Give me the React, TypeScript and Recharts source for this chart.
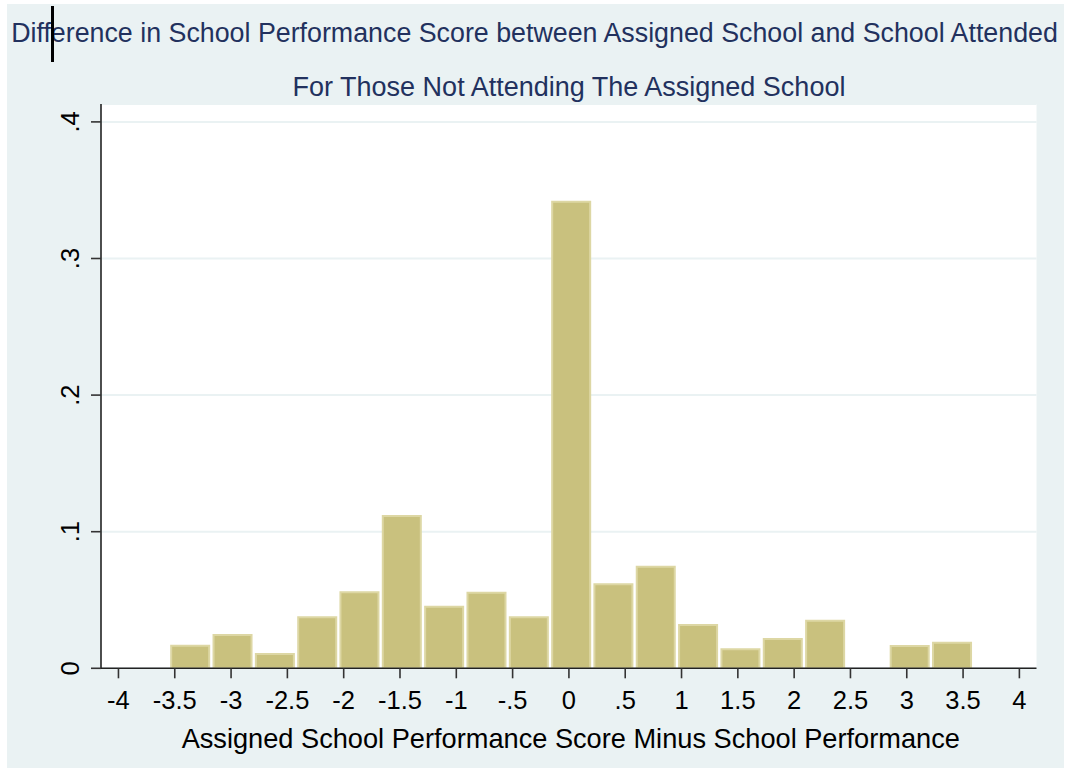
import { BarChart, Bar, XAxis, YAxis, CartesianGrid, Label } from 'recharts'

// histogram bins (centre of each bin) and bar heights (density)
const binCenters = [
  -3.362, -2.986, -2.610, -2.234, -1.859, -1.483, -1.107, -0.731, -0.355, 0.021,
  0.396, 0.772, 1.148, 1.524, 1.900, 2.276, 2.651, 3.027, 3.403,
]
const densities = [
  0.0165, 0.0244, 0.0105, 0.0373, 0.0556, 0.1115, 0.0451, 0.0553, 0.0373, 0.3416,
  0.0615, 0.0744, 0.0317, 0.0139, 0.0214, 0.0348, 0, 0.0163, 0.0187,
]

const xTicks = [-4, -3.5, -3, -2.5, -2, -1.5, -1, -0.5, 0, 0.5, 1, 1.5, 2, 2.5, 3, 3.5, 4]
const xTickLabels = ['-4', '-3.5', '-3', '-2.5', '-2', '-1.5', '-1', '-.5', '0', '.5', '1', '1.5', '2', '2.5', '3', '3.5', '4']
const yTicks = [0, 0.1, 0.2, 0.3, 0.4]
const yTickLabels = ['0', '.1', '.2', '.3', '.4']

const titleLines = [
  'Difference in School Performance Score between Assigned School and School Attended',
  'For Those Not Attending The Assigned School',
]
const xTitle = 'Assigned School Performance Score Minus School Performance'

const FONT = '"Liberation Sans", Arial, Helvetica, sans-serif'
const NAVY = '#22315e'
const BG = '#eaf2f3'

const W = 1072
const H = 770
const X_DOMAIN: [number, number] = [-4.155, 4.152]
const PLOT_LEFT = 101
const PLOT_RIGHT = 1036.5

const data = binCenters.map((x, i) => ({ x, density: densities[i] }))

// bar width = one bin, converted to pixels with the same mapping as the x axis
const pxPerUnit = (PLOT_RIGHT - PLOT_LEFT) / (X_DOMAIN[1] - X_DOMAIN[0])
const barPx = (binCenters[1] - binCenters[0]) * pxPerUnit

function XTick({ x, y, payload }: any) {
  const i = xTicks.indexOf(payload.value)
  return (
    <text x={x} y={y} dy={29} textAnchor="middle" fontSize={25.5} fill="#000" fontFamily={FONT}>
      {xTickLabels[i]}
    </text>
  )
}

function YTick({ x, y, payload }: any) {
  const i = yTicks.indexOf(payload.value)
  const tx = x - 10
  return (
    <text
      x={tx}
      y={y}
      transform={`rotate(-90, ${tx}, ${y})`}
      textAnchor="middle"
      fontSize={25.5}
      fill="#000"
      fontFamily={FONT}
    >
      {yTickLabels[i]}
    </text>
  )
}

export default function App() {
  return (
    <div style={{ position: 'absolute', left: 0, top: 0, width: W, height: H, background: '#fff' }}>
      <div style={{ position: 'absolute', left: 7, top: 4, width: 1057, height: 764, background: BG }} />
      <div style={{ position: 'absolute', left: 0, top: 0 }}>
        <BarChart
          width={W}
          height={H}
          data={data}
          margin={{ top: 104, right: W - PLOT_RIGHT, left: 71, bottom: 71.7 }}
          barCategoryGap={0}
        >
          <CartesianGrid vertical={false} fill="#fff" stroke={BG} strokeWidth={2} />
          <XAxis
            dataKey="x"
            type="number"
            domain={X_DOMAIN}
            ticks={xTicks}
            allowDataOverflow
            height={30}
            tickSize={10}
            tick={<XTick />}
            axisLine={{ stroke: '#222', strokeWidth: 1.6 }}
            tickLine={{ stroke: '#333', strokeWidth: 1.6 }}
          >
            <Label
              content={({ viewBox }: any) => (
                <text
                  x={PLOT_LEFT + (PLOT_RIGHT - PLOT_LEFT) / 2 + 2}
                  y={viewBox.y + 80}
                  textAnchor="middle"
                  fontSize={27.2}
                  fill="#000"
                  fontFamily={FONT}
                >
                  {xTitle}
                </text>
              )}
            />
          </XAxis>
          <YAxis
            type="number"
            domain={[0, 0.4131]}
            ticks={yTicks}
            allowDataOverflow
            width={30}
            tickSize={10}
            tick={<YTick />}
            axisLine={{ stroke: '#222', strokeWidth: 1.6 }}
            tickLine={{ stroke: '#333', strokeWidth: 1.6 }}
          />
          <Bar
            dataKey="density"
            barSize={barPx}
            fill="#c9c17e"
            stroke="#ddd7a4"
            strokeWidth={2}
            isAnimationActive={false}
          />
        </BarChart>
      </div>
      <svg width={W} height={H} style={{ position: 'absolute', left: 0, top: 0, pointerEvents: 'none' }}>
        <text x={534.5} y={42} textAnchor="middle" fontSize={26.8} fill={NAVY} fontFamily={FONT}>
          {titleLines[0]}
        </text>
        <text x={569} y={96} textAnchor="middle" fontSize={27} fill={NAVY} fontFamily={FONT}>
          {titleLines[1]}
        </text>
        {/* stray text cursor visible in the original screenshot */}
        <line x1={52.5} y1={6} x2={52.5} y2={62} stroke="#000" strokeWidth={3} />
      </svg>
    </div>
  )
}
